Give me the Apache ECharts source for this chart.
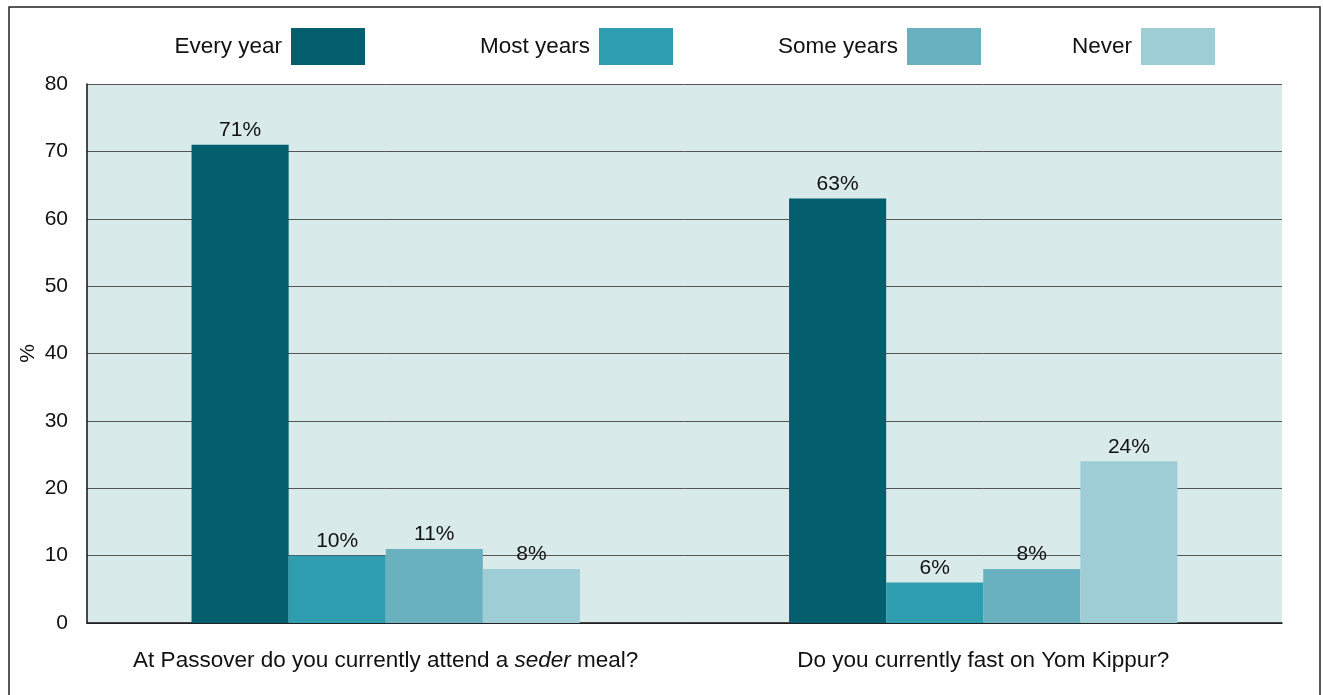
<!DOCTYPE html>
<html>
<head>
<meta charset="utf-8">
<script src="https://cdn.jsdelivr.net/npm/echarts@6/dist/echarts.min.js"></script>
<style>
  html, body { margin: 0; padding: 0; background: #fff; }
  #chart { width: 1323px; height: 695px; }
</style>
</head>
<body>
<div id="chart"></div>
<script>
// data
const categories = [
  "At Passover do you currently attend a seder meal?",
  "Do you currently fast on Yom Kippur?"
];
const seriesNames = ["Every year", "Most years", "Some years", "Never"];
const everyYear = [71, 63];
const mostYears = [10, 6];
const someYears = [11, 8];
const never = [8, 24];
const colors = ["#035f6d", "#2e9daf", "#69b1bf", "#9fcdd5"];

const font = "Liberation Sans";
const chart = echarts.init(document.getElementById("chart"));

// one legend per item so every box lands where it sits in the picture
const legendRights = [958, 650, 342, 108];
const legends = seriesNames.map((name, i) => ({
  data: [name],
  right: legendRights[i],
  top: 28,
  padding: 0,
  align: "right",
  icon: "rect",
  itemWidth: 74,
  itemHeight: 37,
  selectedMode: false,
  textStyle: { fontFamily: font, fontSize: 22.5, color: "#111", padding: [0, 4, 0, 0] },
}));

const valuesList = [everyYear, mostYears, someYears, never];

chart.setOption({
  animation: false,
  textStyle: { fontFamily: font },
  color: colors,
  graphic: [
    {
      type: "rect",
      shape: { x: 9, y: 7, width: 1311, height: 700 },
      style: { fill: "none", stroke: "#222", lineWidth: 1.5 },
      silent: true,
    },
  ],
  legend: legends,
  grid: {
    left: 87,
    right: 41,
    top: 84,
    bottom: 72,
    show: true,
    backgroundColor: "#d9eaea",
    borderWidth: 0,
  },
  xAxis: {
    type: "category",
    data: categories,
    axisTick: { show: false },
    axisLine: { lineStyle: { color: "#111", width: 1.5 } },
    axisLabel: {
      interval: 0,
      fontFamily: font,
      fontSize: 22.5,
      color: "#111",
      margin: 26,
      formatter: (v) => v.replace("seder", "{i|seder}"),
      rich: {
        i: { fontFamily: font, fontSize: 22.5, color: "#111", fontStyle: "italic" },
      },
    },
  },
  yAxis: {
    type: "value",
    min: 0,
    max: 80,
    interval: 10,
    name: "%",
    nameLocation: "middle",
    nameGap: 48,
    nameMoveOverlap: false,
    nameTextStyle: { fontFamily: font, fontSize: 21, color: "#111" },
    axisLine: { show: true, lineStyle: { color: "#111", width: 1.5 } },
    axisTick: { show: false },
    axisLabel: { fontFamily: font, fontSize: 21, color: "#111", margin: 19 },
    splitLine: { lineStyle: { color: "#555", width: 1 } },
  },
  series: seriesNames.map((name, i) => ({
    name: name,
    type: "bar",
    data: valuesList[i],
    barGap: "0%",
    barCategoryGap: "35%",
    label: {
      show: true,
      position: "top",
      distance: 4,
      formatter: "{c}%",
      fontFamily: font,
      fontSize: 21,
      color: "#111",
    },
  })),
});
</script>
</body>
</html>
